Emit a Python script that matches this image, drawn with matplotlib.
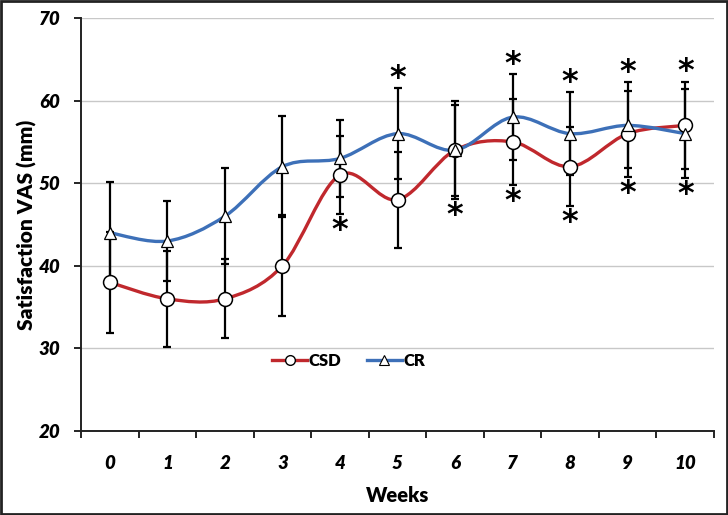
import matplotlib
matplotlib.use("Agg")
import matplotlib.pyplot as plt
from matplotlib.path import Path
from matplotlib.patches import PathPatch, Rectangle
from matplotlib.lines import Line2D

weeks = ["0", "1", "2", "3", "4", "5", "6", "7", "8", "9", "10"]
csd = [38, 36, 36, 40, 51, 48, 54, 55, 52, 56, 57]
csd_sd = [6.1, 5.8, 4.8, 6.1, 4.7, 5.8, 5.9, 5.2, 4.8, 5.2, 5.3]
cr = [44, 43, 46, 52, 53, 56, 54, 58, 56, 57, 56]
cr_sd = [6.2, 4.8, 5.8, 6.1, 4.7, 5.5, 5.5, 5.2, 5.0, 5.2, 5.4]
star_above = [5, 7, 8, 9, 10]
star_below = [4, 6, 7, 8, 9, 10]
y_ticks = [20, 30, 40, 50, 60, 70]

RED = "#C0282D"
BLUE = "#3D70B8"
FONT = "Lato"

fig = plt.figure(figsize=(7.28, 5.15), dpi=100)
ax = fig.add_axes([81/728, 1-431/515, 633/728, 413/515])

x = list(range(len(weeks)))


def smooth_path(xs, ys):
    pts = list(zip(xs, ys))
    n = len(pts)
    verts = [pts[0]]
    codes = [Path.MOVETO]
    for i in range(n - 1):
        p0 = pts[i - 1] if i > 0 else pts[i]
        p1 = pts[i]
        p2 = pts[i + 1]
        p3 = pts[i + 2] if i + 2 < n else pts[i + 1]
        c1 = (p1[0] + (p2[0] - p0[0]) / 6, p1[1] + (p2[1] - p0[1]) / 6)
        c2 = (p2[0] - (p3[0] - p1[0]) / 6, p2[1] - (p3[1] - p1[1]) / 6)
        verts += [c1, c2, p2]
        codes += [Path.CURVE4] * 3
    return Path(verts, codes)


for vals, col in [(csd, RED), (cr, BLUE)]:
    ax.add_patch(PathPatch(smooth_path(x, vals), facecolor="none",
                           edgecolor=col, lw=2.4, zorder=2, capstyle="round"))

for vals, sd in [(csd, csd_sd), (cr, cr_sd)]:
    ax.errorbar(x, vals, yerr=sd, fmt="none", ecolor="black", elinewidth=1.6,
                capsize=2.8, capthick=1.6, zorder=3)

ax.plot(x, csd, linestyle="none", marker="o", ms=10, mfc="white", mec="black",
        mew=1.1, zorder=5)
ax.plot(x, cr, linestyle="none", marker="^", ms=9, mfc="white", mec="black",
        mew=0.9, zorder=5)

for w in star_above:
    top = max(csd[w] + csd_sd[w], cr[w] + cr_sd[w])
    ax.annotate("*", xy=(w, top), xytext=(0, -4), textcoords="offset points",
                ha="center", va="bottom", fontsize=23, fontweight="bold",
                family="DejaVu Sans")
for w in star_below:
    bot = min(csd[w] - csd_sd[w], cr[w] - cr_sd[w])
    ax.annotate("*", xy=(w, bot), xytext=(0, -23), textcoords="offset points",
                ha="center", va="bottom", fontsize=23, fontweight="bold",
                family="DejaVu Sans")

ax.set_xlim(-0.5, len(weeks) - 0.5)
ax.set_ylim(20, 70)
ax.set_yticks(y_ticks)
ax.set_yticklabels([str(t) for t in y_ticks], fontsize=13.5, fontweight="heavy",
                   fontstyle="italic", family=FONT)
ax.set_xticks(x)
ax.set_xticklabels(weeks, fontsize=13.5, fontweight="heavy", fontstyle="italic",
                   family=FONT)
ax.set_xticks([i - 0.5 for i in range(len(weeks) + 1)], minor=True)
ax.tick_params(axis="x", which="major", length=0, pad=17)
ax.tick_params(axis="x", which="minor", length=5, width=1.2, direction="out")
ax.tick_params(axis="y", length=5, width=1.2, direction="out", pad=10)

ax.grid(axis="y", color="#C8C8C8", lw=1.0, zorder=0)
ax.set_axisbelow(True)
for s in ["top", "right"]:
    ax.spines[s].set_visible(False)
for s in ["left", "bottom"]:
    ax.spines[s].set_linewidth(1.4)
    ax.spines[s].set_color("#222222")

ax.set_ylabel("Satisfaction VAS (mm)", fontsize=15, fontweight="heavy",
              family=FONT, va="center")
ax.yaxis.set_label_coords(-0.0853, 0.5)
ax.set_xlabel("Weeks", fontsize=14.5, fontweight="heavy", family=FONT, va="center")
ax.xaxis.set_label_coords(0.5, -0.155)

handles = [
    Line2D([], [], color=RED, lw=2.4, marker="o", ms=7, mfc="white",
           mec="black", mew=1.0),
    Line2D([], [], color=BLUE, lw=2.4, marker="^", ms=7, mfc="white",
           mec="black", mew=0.8),
]
ax.legend(handles, ["CSD", "CR"], loc="center", bbox_to_anchor=(0.423, 0.17),
          ncol=2, frameon=False, handlelength=2.1, handletextpad=0.1,
          columnspacing=1.5, prop={"family": FONT, "weight": "heavy", "size": 12})

fig.patches.append(Rectangle((0.002, 0.002), 0.996, 0.996, transform=fig.transFigure,
                             fill=False, edgecolor="#222222", lw=2))

fig.savefig("out.png", dpi=100, facecolor="white")
